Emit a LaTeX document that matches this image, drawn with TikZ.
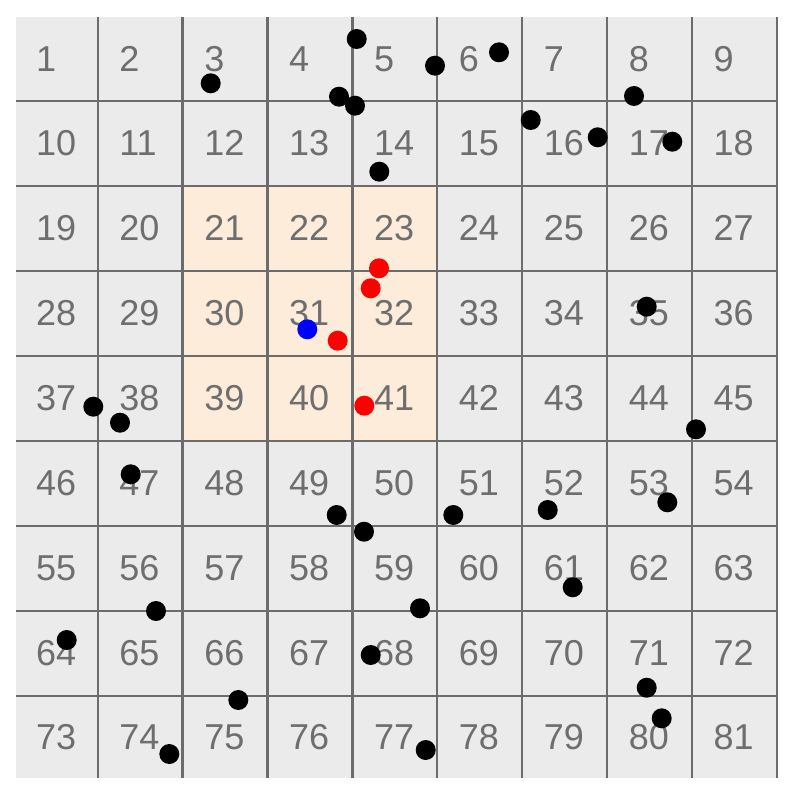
\documentclass[tikz,border=0pt]{standalone}
\usepackage{fontspec}
\setmainfont{Liberation Sans}
\definecolor{cellgray}{RGB}{235,235,235}
\definecolor{peach}{RGB}{253,236,218}
\definecolor{gridline}{RGB}{108,108,108}
\definecolor{numgray}{RGB}{110,110,110}
\begin{document}
\begin{tikzpicture}[x=1pt,y=-1pt,
  numlabel/.style={anchor=west,inner sep=0pt,text=numgray,font=\fontsize{36}{40}\selectfont},
  blackdot/.style={circle,fill=black,inner sep=0pt,minimum size=20pt},
  reddot/.style={circle,fill=red,inner sep=0pt,minimum size=20pt},
  bluedot/.style={circle,fill=blue,inner sep=0pt,minimum size=20pt},
  gridrule/.style={draw=gridline,line width=2.3pt}]
\useasboundingbox (0,0) rectangle (790,794);
% cell backgrounds
\fill[cellgray] (16,17) rectangle (776.9,778);
\fill[peach] (182.6,185.7) rectangle (437.3,440.7);
% grid lines
\foreach \gx in {97.7,182.6,267.5,352.4,437.3,522.2,607.1,692.0,776.9}
  \draw[gridrule] (\gx,17) -- (\gx,778);
\foreach \gy in {100.7,185.7,270.7,355.7,440.7,525.7,610.7,695.7}
  \draw[gridrule] (16,\gy) -- (776.9,\gy);
% numbers
\foreach \r in {0,...,8}{
  \foreach \c in {0,...,8}{
    \pgfmathsetmacro\cx{{56.85,140.15,225.05,309.95,394.85,479.75,564.65,649.55,734.45}[\c]}
    \pgfmathsetmacro\cy{{58.85,143.2,228.2,313.2,398.2,483.2,568.2,653.2,736.85}[\r]}
    \pgfmathtruncatemacro\n{9*\r+\c+1}
    \node[numlabel] (lbl\n) at (\cx-21,\cy) {\n};
  }
}
% black dots
\node[blackdot] (b1) at (356.7,39) {};
\node[blackdot] (b2) at (210.7,83.3) {};
\node[blackdot] (b3) at (435,65.7) {};
\node[blackdot] (b4) at (499,52.3) {};
\node[blackdot] (b5) at (339,96.7) {};
\node[blackdot] (b6) at (355,105.7) {};
\node[blackdot] (b7) at (634,96) {};
\node[blackdot] (b8) at (530.7,120) {};
\node[blackdot] (b9) at (597.7,137.3) {};
\node[blackdot] (b10) at (672.3,141.7) {};
\node[blackdot] (b11) at (379.3,171.7) {};
\node[blackdot] (b12) at (646.7,306.7) {};
\node[blackdot] (b13) at (93.3,406.7) {};
\node[blackdot] (b14) at (120,422.7) {};
\node[blackdot] (b15) at (696,429.3) {};
\node[blackdot] (b16) at (130.7,474.3) {};
\node[blackdot] (b17) at (336.7,515) {};
\node[blackdot] (b18) at (364,531.7) {};
\node[blackdot] (b19) at (453.3,515) {};
\node[blackdot] (b20) at (547.7,510) {};
\node[blackdot] (b21) at (667.3,502.3) {};
\node[blackdot] (b22) at (572.7,587.3) {};
\node[blackdot] (b23) at (156,611) {};
\node[blackdot] (b24) at (420,608.3) {};
\node[blackdot] (b25) at (66.7,640) {};
\node[blackdot] (b26) at (370.7,655) {};
\node[blackdot] (b27) at (238.3,700) {};
\node[blackdot] (b28) at (646.7,687.7) {};
\node[blackdot] (b29) at (661.7,718.3) {};
\node[blackdot] (b30) at (169.3,754) {};
\node[blackdot] (b31) at (425.7,750) {};
% red dots
\node[reddot] (r1) at (379,268.3) {};
\node[reddot] (r2) at (370.7,288.3) {};
\node[reddot] (r3) at (337.7,340.7) {};
\node[reddot] (r4) at (364.3,405.7) {};
% blue dot
\node[bluedot] (q1) at (307.3,329.3) {};
\end{tikzpicture}
\end{document}
